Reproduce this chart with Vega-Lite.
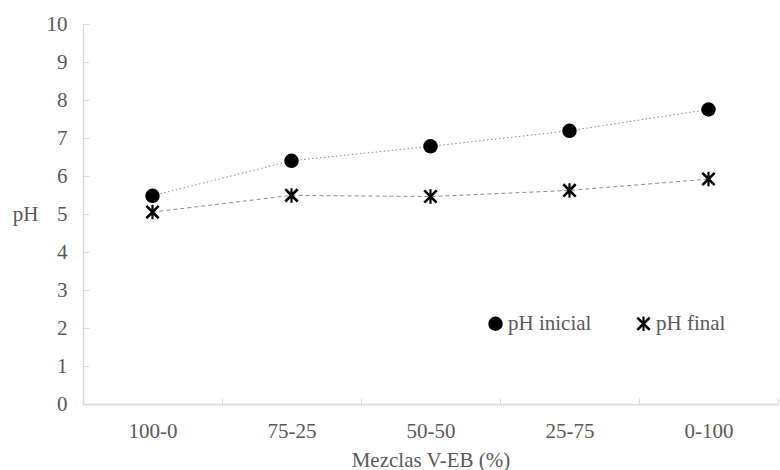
{
  "$schema": "https://vega.github.io/schema/vega-lite/v6.json",
  "autosize": "none",
  "padding": {"left": 83, "top": 24, "right": 2, "bottom": 66},
  "width": 695,
  "height": 380,
  "background": "white",
  "config": {
    "view": {"stroke": null},
    "font": "Liberation Serif, Times New Roman, serif"
  },
  "data": {
    "values": [
      {"mezcla": "100-0", "serie": "pH inicial", "ph": 5.48},
      {"mezcla": "75-25", "serie": "pH inicial", "ph": 6.40},
      {"mezcla": "50-50", "serie": "pH inicial", "ph": 6.78},
      {"mezcla": "25-75", "serie": "pH inicial", "ph": 7.19},
      {"mezcla": "0-100", "serie": "pH inicial", "ph": 7.75},
      {"mezcla": "100-0", "serie": "pH final", "ph": 5.05},
      {"mezcla": "75-25", "serie": "pH final", "ph": 5.49},
      {"mezcla": "50-50", "serie": "pH final", "ph": 5.46},
      {"mezcla": "25-75", "serie": "pH final", "ph": 5.62},
      {"mezcla": "0-100", "serie": "pH final", "ph": 5.92}
    ]
  },
  "encoding": {
    "x": {
      "field": "mezcla", "type": "nominal", "sort": null,
      "scale": {"type": "band", "paddingInner": 0, "paddingOuter": 0},
      "axis": {
        "title": "Mezclas V-EB (%)", "labelAngle": 0,
        "labelFont": "Liberation Serif, Times New Roman, serif", "labelFontSize": 21, "labelColor": "#595959",
        "labelPadding": 22,
        "titleFont": "Liberation Serif, Times New Roman, serif", "titleFontSize": 21, "titleFontWeight": "normal", "titleColor": "#595959",
        "titlePadding": 8,
        "domainColor": "#d9d9d9", "domainWidth": 1.5,
        "tickColor": "#d9d9d9", "tickSize": -6, "tickBand": "extent",
        "grid": false
      }
    },
    "y": {
      "field": "ph", "type": "quantitative",
      "scale": {"domain": [0, 10], "nice": false},
      "axis": {
        "title": "pH", "titleAngle": 0, "titleX": -58, "titleY": 190, "titleAlign": "center", "titleBaseline": "middle",
        "titleFont": "Liberation Serif, Times New Roman, serif", "titleFontSize": 21, "titleFontWeight": "normal", "titleColor": "#595959",
        "values": [0,1,2,3,4,5,6,7,8,9,10], "labelOverlap": false,
        "labelFont": "Liberation Serif, Times New Roman, serif", "labelFontSize": 21, "labelColor": "#595959",
        "labelPadding": 22,
        "domainColor": "#d9d9d9", "domainWidth": 1.5,
        "tickColor": "#d9d9d9", "tickSize": -6,
        "grid": false
      }
    }
  },
  "layer": [
    {
      "mark": {"type": "line", "color": "#8c8c8c", "strokeWidth": 1},
      "encoding": {
        "detail": {"field": "serie"},
        "strokeDash": {
          "field": "serie", "type": "nominal",
          "scale": {"domain": ["pH inicial", "pH final"], "range": [[1.5, 2.5], [4, 3]]},
          "legend": null
        }
      }
    },
    {
      "mark": {"type": "point", "filled": true, "opacity": 1, "color": "black", "strokeWidth": 0, "size": 210},
      "encoding": {
        "shape": {
          "field": "serie", "type": "nominal",
          "scale": {"domain": ["pH inicial", "pH final"], "range": ["circle", "M-0.723,-0.977L0.977,0.723L0.723,0.977L-0.977,-0.723ZM-0.977,0.723L0.723,-0.977L0.977,-0.723L-0.723,0.977ZM-0.15,-1L0.15,-1L0.15,1L-0.15,1Z"]},
          "legend": {
            "title": null, "orient": "none", "legendX": 402, "legendY": 289, "direction": "horizontal",
            "labelFont": "Liberation Serif, Times New Roman, serif", "labelFontSize": 21, "labelColor": "#595959",
            "symbolFillColor": "black", "symbolStrokeWidth": 0, "symbolSize": 210,
            "columnPadding": 41, "labelOffset": 2, "symbolOpacity": 1,
            "encode": {"symbols": {"update": {"fill": {"value": "black"}, "opacity": {"value": 1}}}}
          }
        }
      }
    }
  ],
  "resolve": {"legend": {"shape": "independent", "strokeDash": "independent"}, "scale": {"shape": "independent", "strokeDash": "independent"}}
}
